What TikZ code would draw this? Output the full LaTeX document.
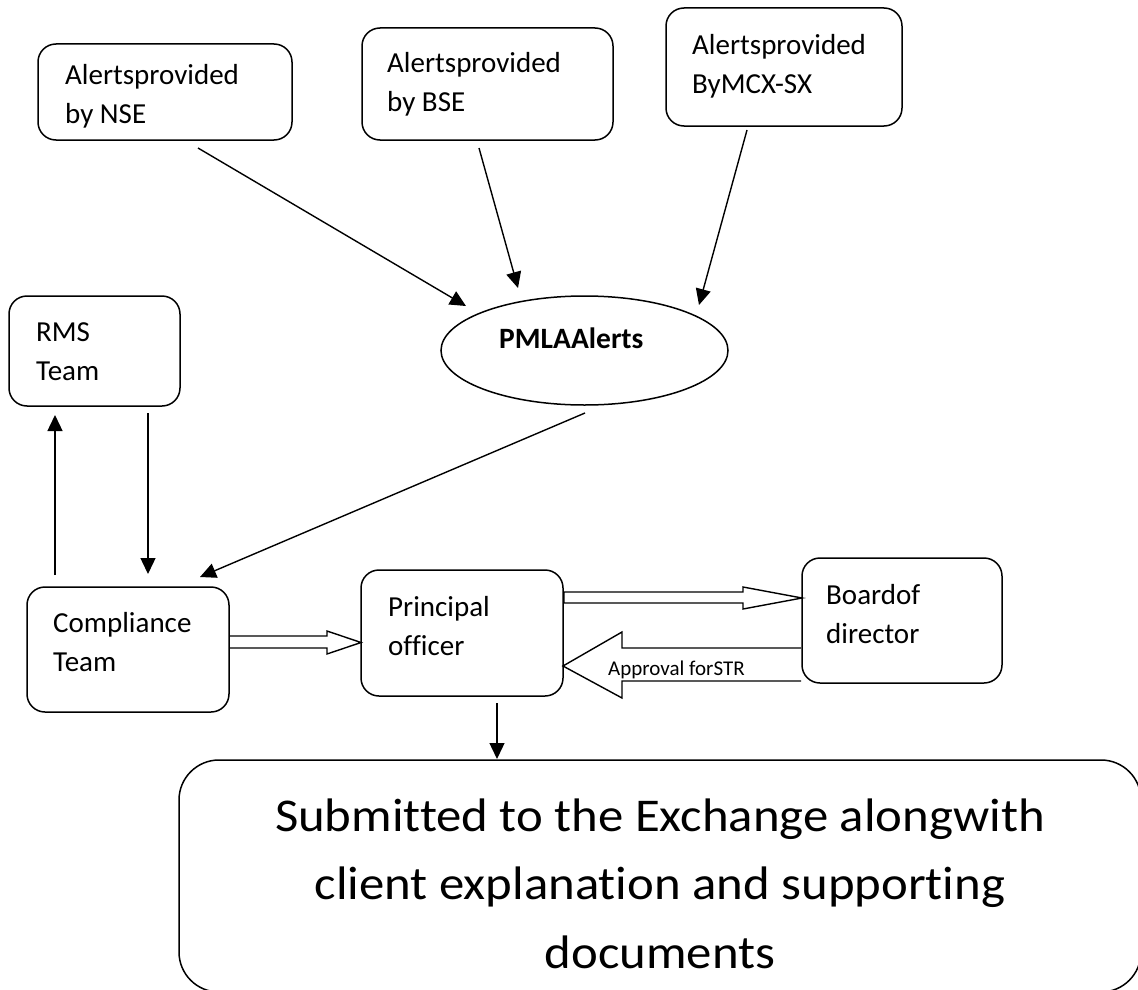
\documentclass[tikz,border=0pt]{standalone}
\usepackage{fontspec}
\setmainfont{Carlito}[Ligatures=NoCommon]
\newfontfamily\widefont{Carlito}[Ligatures=NoCommon,FakeStretch=1.08]
\usetikzlibrary{arrows.meta,shapes.geometric,calc}
\begin{document}
\begin{tikzpicture}[x=1pt,y=-1pt,
  boxstyle/.style={draw, line width=1.5pt, rounded corners=18pt, inner sep=0pt, outer sep=0pt},
  lbl/.style={anchor=base west, align=left, inner sep=0pt, font=\fontsize{29}{38.5}\selectfont},
  arr/.style={line width=1.4pt, -{Triangle[length=16pt,width=15pt]}},
  blk/.style={draw, line width=1.4pt, line join=miter}]
\useasboundingbox (0,0) rectangle (1138,990);
\clip (0,0) rectangle (1138,990);

% boxes
\node[boxstyle, minimum width=254pt, minimum height=96pt]  (nse)   at (165,92) {};
\node[boxstyle, minimum width=251pt, minimum height=112pt] (bse)   at (487.5,84) {};
\node[boxstyle, minimum width=236pt, minimum height=118pt] (mcx)   at (784,67) {};
\node[boxstyle, minimum width=171pt, minimum height=110pt] (rms)   at (94.5,351) {};
\node[boxstyle, minimum width=202pt, minimum height=125pt] (comp)  at (128,649.5) {};
\node[boxstyle, minimum width=202pt, minimum height=126pt] (princ) at (462,633) {};
\node[boxstyle, minimum width=200pt, minimum height=125pt] (board) at (902,620.5) {};
\node[boxstyle, rounded corners=40pt, minimum width=962pt, minimum height=232pt] (sub) at (660,876) {};
\node[draw, line width=1.5pt, ellipse, inner sep=0pt, minimum width=287pt, minimum height=109pt] (pmla) at (584.5,350.5) {};

% labels (anchored at the baseline of their last line)
\node[lbl] (nsetxt)   at (65,123)  {Alertsprovided\\by NSE};
\node[lbl] (bsetxt)   at (387,111) {Alertsprovided\\by BSE};
\node[lbl] (mcxtxt)   at (692,93)  {Alertsprovided\\ByMCX-SX};
\node[lbl] (rmstxt)   at (36,380)  {RMS\\Team};
\node[lbl] (comptxt)  at (53,671)  {Compliance\\Team};
\node[lbl] (princtxt) at (388,655) {Principal\\officer};
\node[lbl] (boardtxt) at (826,643) {Boardof\\director};
\node[anchor=base west, inner sep=0pt, font=\fontsize{29.5}{35}\selectfont\bfseries] (pmlatxt) at (499,348) {PMLAAlerts};
\node[anchor=base, align=center, inner sep=0pt, font=\widefont\fontsize{47}{68.5}\selectfont] (subtxt) at (660,968)
  {Submitted to the Exchange alongwith\\client explanation and supporting\\documents};

% connector end points
\coordinate (nseOut)  at (198,148);
\coordinate (nseIn)   at (466,306);
\coordinate (bseOut)  at (479,148);
\coordinate (bseIn)   at (518,288);
\coordinate (mcxOut)  at (747,130);
\coordinate (mcxIn)   at (699,305);
\coordinate (pmlaOut) at (585,413);
\coordinate (compIn)  at (200,577);
\coordinate (compUp)  at (55,575);
\coordinate (rmsIn)   at (55,415);
\coordinate (rmsOut)  at (148,413);
\coordinate (compIn2) at (148,574);
\coordinate (princOut) at (497,703);
\coordinate (subIn)   at (497,759);

\draw[arr] (nseOut) -- (nseIn);
\draw[arr] (bseOut) -- (bseIn);
\draw[arr] (mcxOut) -- (mcxIn);
\draw[arr] (pmlaOut) -- (compIn);
\draw[arr] (compUp) -- (rmsIn);
\draw[arr] (rmsOut) -- (compIn2);
\draw[arr] (princOut) -- (subIn);

% hollow block arrows
\draw[blk] (comp.east |- 0,636) -- (327,636) -- (327,631) -- (princ.west |- 0,642.5) -- (327,654) -- (327,648) -- (comp.east |- 0,648);
\draw[blk] (564,592) -- (743,592) -- (743,587) -- (board.west |- 0,598) -- (743,609) -- (743,603) -- (564,603) -- cycle;
\draw[blk] (801,648) -- (622,648) -- (622,632) -- (princ.east |- 0,666) -- (622,698) -- (622,681) -- (801,681);
\node[anchor=base west, inner sep=0pt, font=\fontsize{21}{25}\selectfont] (apptxt) at (608,675) {Approval forSTR};
\end{tikzpicture}
\end{document}
